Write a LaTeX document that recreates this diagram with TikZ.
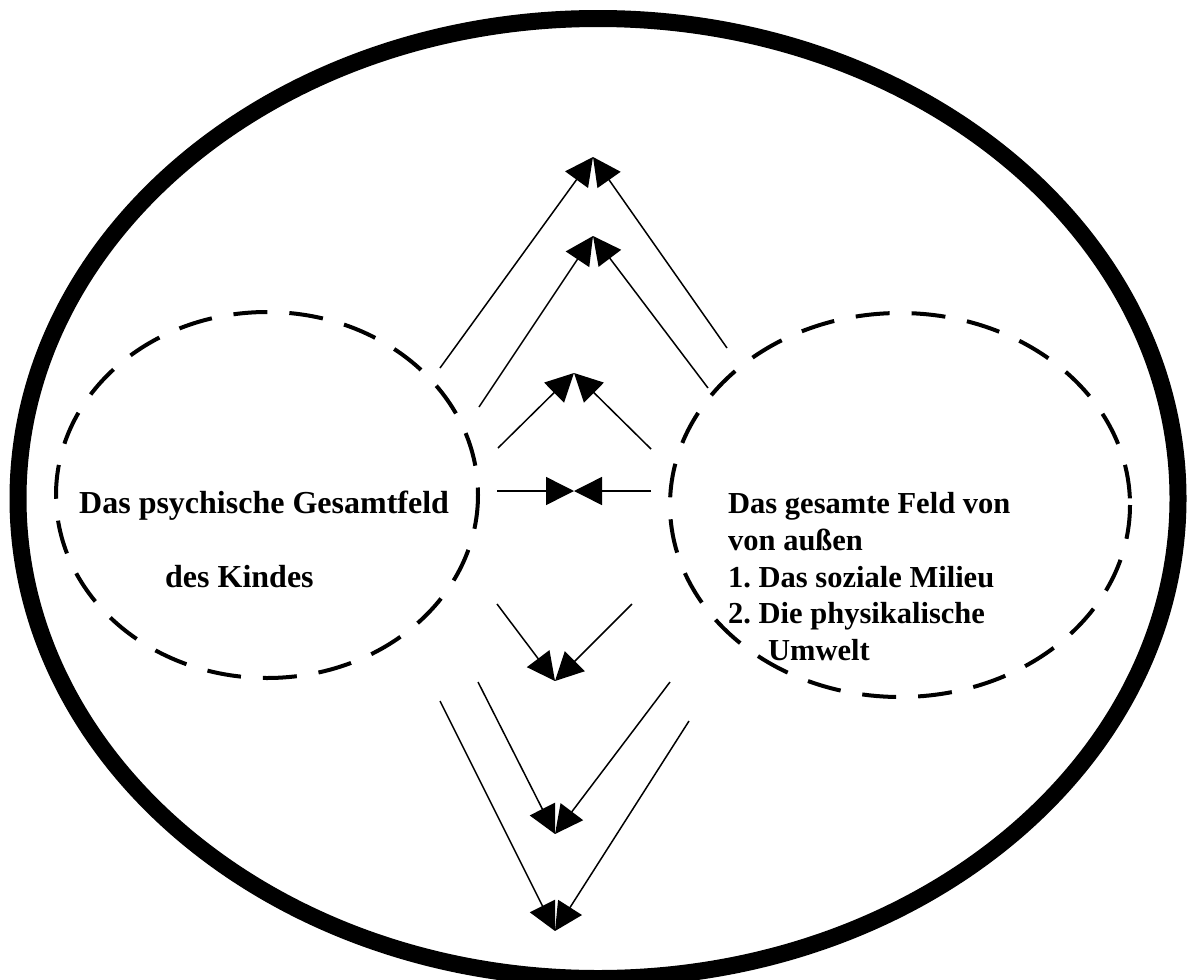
\documentclass[tikz,border=0pt]{standalone}
\usepackage{fontspec}
\setmainfont{Liberation Serif}
\usetikzlibrary{arrows.meta}
\frenchspacing
\begin{document}
\begin{tikzpicture}[x=1pt,y=-1pt,
  thinline/.style={line width=1.5pt,-{Triangle[length=28pt,width=28pt]}},
  dashring/.style={line width=4pt,dash pattern=on 34pt off 22pt},
  lbl/.style={anchor=base west,inner sep=0pt,font=\bfseries\fontsize{32}{36}\selectfont},
  rlbl/.style={anchor=base west,inner sep=0pt,font=\bfseries\fontsize{30.5}{36}\selectfont}]
\useasboundingbox (0,0) rectangle (1197,980);
\fill[white] (0,0) rectangle (1197,980);
% outer ellipse
\draw[line width=17pt] (598,498.5) ellipse [x radius=580, y radius=480];
% inner dashed ellipses
\draw[dashring] (267,495) ellipse [x radius=211, y radius=183];
\draw[dashring] (900,505) ellipse [x radius=230, y radius=192];
% texts
\node[lbl] (l1) at (79,513) {Das psychische Gesamtfeld};
\node[lbl] (l2) at (165,587) {des Kindes};
\node[rlbl] (r1) at (728,513) {Das gesamte Feld von};
\node[rlbl] (r2) at (728,550) {von außen};
\node[rlbl] (r3) at (728,587) {1.\ Das soziale Milieu};
\node[rlbl] (r4) at (728,623) {2.\ Die physikalische};
\node[rlbl] (r5) at (768,660) {Umwelt};
% tips
\coordinate (t1) at (593,157);
\coordinate (t2) at (593,236);
\coordinate (t3) at (574,373);
\coordinate (t4) at (574,491);
\coordinate (t5) at (555,681);
\coordinate (t6) at (555,834);
\coordinate (t7) at (555,931);
% starts
\coordinate (a1) at (440,368); \coordinate (b1) at (727,348);
\coordinate (a2) at (479,407); \coordinate (b2) at (708,388);
\coordinate (a3) at (498,448); \coordinate (b3) at (651,449);
\coordinate (a4) at (497,491); \coordinate (b4) at (651,491);
\coordinate (a5) at (497,604); \coordinate (b5) at (632,604);
\coordinate (a6) at (478,682); \coordinate (b6) at (670,682);
\coordinate (a7) at (440,701); \coordinate (b7) at (689,721);
\foreach \i in {1,...,7}{
  \draw[thinline] (a\i) -- (t\i);
  \draw[thinline] (b\i) -- (t\i);
}
\end{tikzpicture}
\end{document}
